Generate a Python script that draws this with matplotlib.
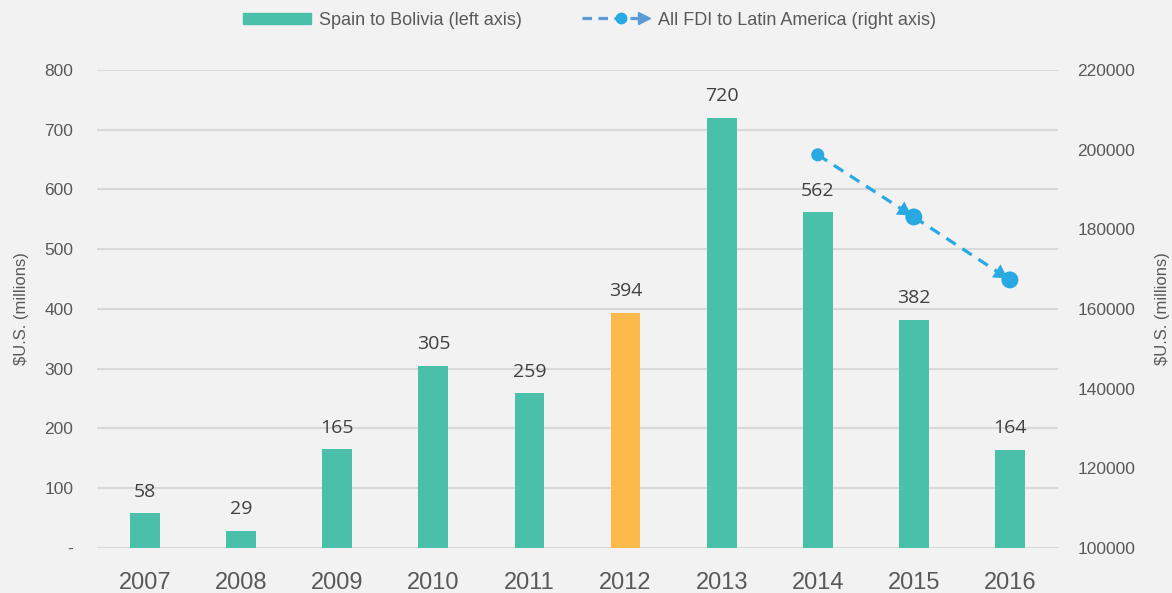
import numpy as np
import matplotlib.pyplot as plt
from matplotlib.patches import Rectangle
from matplotlib.lines import Line2D
from matplotlib.legend_handler import HandlerBase

years = ["2007", "2008", "2009", "2010", "2011", "2012", "2013", "2014", "2015", "2016"]
spain_bolivia = [58, 29, 165, 305, 259, 394, 720, 562, 382, 164]
highlight_year = "2012"
fdi_years = ["2014", "2015", "2016"]
fdi_latam = [198700, 183100, 167300]

left_ticks = [0, 100, 200, 300, 400, 500, 600, 700, 800]
left_labels = ["-", "100", "200", "300", "400", "500", "600", "700", "800"]
right_ticks = [100000, 120000, 140000, 160000, 180000, 200000, 220000]

bg = "#f2f2f2"
teal = "#4ac0aa"
orange = "#fdb94a"
blue = "#29a9e1"
legend_blue = "#5b9bd5"
gray_txt = "#595959"

plt.rcParams["font.family"] = ["Liberation Sans", "DejaVu Sans"]

fig = plt.figure(figsize=(11.72, 5.93), dpi=100, facecolor=bg)
ax = fig.add_axes([0.0828, 0.0759, 0.8199, 0.8061])
ax.set_facecolor(bg)
ax2 = ax.twinx()

x = np.arange(len(years))
colors = [orange if y == highlight_year else teal for y in years]
ax.bar(x, spain_bolivia, width=0.31, color=colors, zorder=3)
for xi, v in zip(x, spain_bolivia):
    ax.annotate(str(v), (xi, v), xytext=(0, 9), textcoords="offset points",
                ha="center", va="bottom", fontsize=14, color="#404040",
                family=["Open Sans", "DejaVu Sans"], zorder=4)

ax.set_xlim(-0.5, len(years) - 0.5)
ax.set_ylim(0, 800)
ax.set_yticks(left_ticks)
ax.set_yticklabels(left_labels)
ax.set_xticks(x)
ax.set_xticklabels(years)
ax.grid(axis="y", color="#d9d9d9", lw=1.5, zorder=0)
ax.set_axisbelow(True)
ax.tick_params(axis="y", length=0, pad=17, labelsize=12.5, labelcolor=gray_txt)
ax.tick_params(axis="x", length=0, pad=17, labelsize=17, labelcolor=gray_txt)
ax.set_ylabel("$U.S. (millions)", fontsize=12, color=gray_txt, labelpad=11)

# right axis: FDI line
fx = [years.index(y) for y in fdi_years]
ax2.set_ylim(100000, 220000)
ax2.set_yticks(right_ticks)
ax2.tick_params(axis="y", length=0, pad=14, labelsize=12.5, labelcolor=gray_txt)
ax2.set_ylabel("$U.S. (millions)", fontsize=12, color=gray_txt, labelpad=14)
ax2.plot(fx, fdi_latam, color=blue, lw=2.3, linestyle=(0, (3.5, 2.5)), zorder=3)
ax2.scatter(fx, fdi_latam, s=[9.4 ** 2, 12.2 ** 2, 12.2 ** 2], color=blue, zorder=4, linewidths=0)
for i in range(1, len(fx)):
    ax2.annotate("", xy=(fx[i], fdi_latam[i]), xytext=(fx[i - 1], fdi_latam[i - 1]),
                 arrowprops=dict(arrowstyle="-|>,head_length=0.7,head_width=0.4",
                                 color=blue, lw=0, shrinkA=0, shrinkB=2,
                                 mutation_scale=14), zorder=4)

for a in (ax, ax2):
    for s in a.spines.values():
        s.set_visible(False)


class ArrowLineHandler(HandlerBase):
    def create_artists(self, legend, orig_handle, xdescent, ydescent, width, height, fontsize, trans):
        yc = height / 2 - ydescent
        line = Line2D([-xdescent, width - xdescent - 6], [yc, yc], color=legend_blue, lw=2.3,
                      linestyle=(0, (3, 2)), transform=trans)
        dot = Line2D([width * 0.58 - xdescent], [yc], marker="o", markersize=7.5,
                     color=blue, lw=0, transform=trans)
        head = Line2D([width - xdescent - 4], [yc], marker=">", markersize=9,
                      color=legend_blue, lw=0, transform=trans)
        return [line, dot, head]


h_bar = Rectangle((0, 0), 1, 1, color=teal)
h_line = Line2D([], [])
fig.legend([h_bar, h_line], ["Spain to Bolivia (left axis)", "All FDI to Latin America (right axis)"],
           handler_map={Line2D: ArrowLineHandler()},
           loc="center", bbox_to_anchor=(0.503, 0.966), ncol=2, frameon=False,
           fontsize=13, labelcolor=gray_txt, handlelength=3.77, handleheight=0.55,
           handletextpad=0.45, columnspacing=3.3)

fig.savefig("out.png", dpi=100, facecolor=bg)
